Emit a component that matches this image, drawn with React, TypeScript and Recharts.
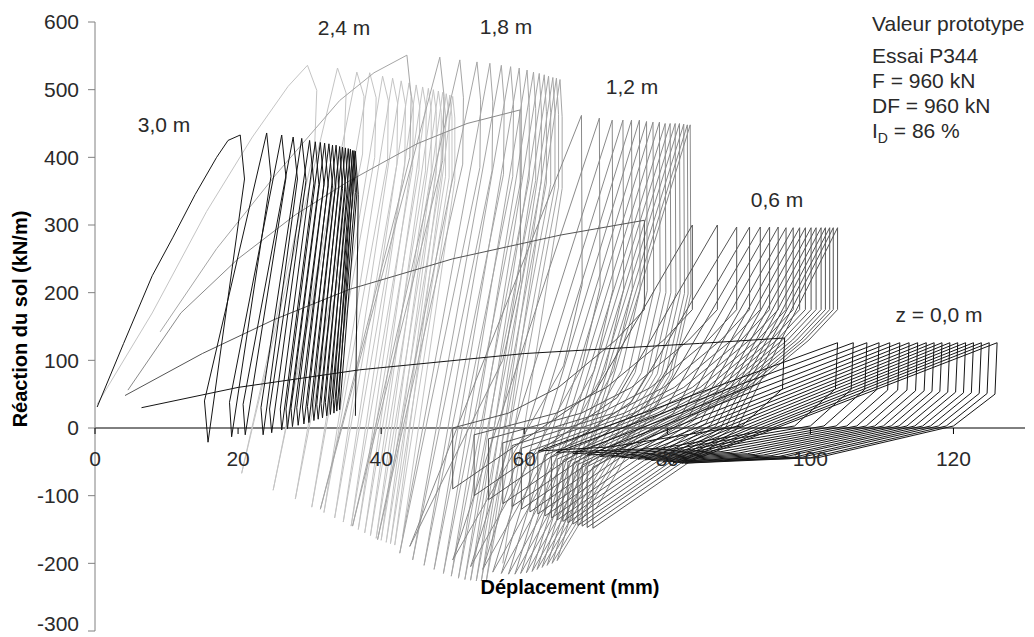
import React from 'react';
import { LineChart, Line, XAxis, YAxis, ReferenceLine, ReferenceDot } from 'recharts';

type P = [number, number];

const xTicks = [0, 20, 40, 60, 80, 100, 120];
const yTicks = [-300, -200, -100, 0, 100, 200, 300, 400, 500, 600];

const depth30: P[] = [
  [0.3, 31], [4, 125], [8, 225], [10.9, 282], [14, 345], [17, 400], [18.6, 425], [20.3, 433],
  [20.9, 368], [15.8, -21], [15.3, 40], [24.0, 436],
  [24.6, 372], [19.1, -13], [18.8, 38], [26.1, 433],
  [26.7, 370], [21.0, -10], [20.7, 35], [27.7, 430],
  [28.3, 368], [23.5, -10], [23.2, 30], [28.9, 428],
  [29.5, 366], [24.7, -7], [24.4, 28], [30.0, 425],
  [30.6, 362], [26.1, -3], [25.9, 28], [30.8, 423],
  [31.3, 360], [26.9, -1], [26.7, 28], [31.5, 422],
  [32.0, 360], [27.6, 2], [27.4, 29], [32.1, 421],
  [32.6, 358], [28.4, 4], [28.2, 30], [32.7, 420],
  [33.2, 358], [29.2, 6], [29.0, 31], [33.2, 418],
  [33.6, 356], [29.9, 8], [29.7, 32], [33.7, 418],
  [34.1, 356], [30.6, 11], [30.4, 34], [34.2, 416],
  [34.6, 354], [31.2, 13], [31.0, 35], [34.6, 415],
  [35.0, 352], [31.8, 15], [31.6, 36], [35.0, 414],
  [35.4, 352], [32.4, 18], [32.2, 38], [35.4, 413],
  [35.8, 350], [32.9, 20], [32.8, 40], [35.7, 412],
  [36.1, 350], [33.4, 22], [33.3, 42], [36.0, 410],
  [36.4, 348], [33.8, 25], [33.7, 44], [36.2, 410],
  [36.6, 346], [34.2, 27], [34.1, 46], [36.4, 409],
  [36.8, 345], [36.4, 18],
];

const depth24: P[] = [
  [0.3, 35], [8, 170], [15.6, 320], [22, 430], [27, 505], [29.7, 536],
  [31.0, 499], [30.7, 415], [20.5, -67],
  [33.9, 532], [35.1, 495], [34.8, 410], [24.9, -92],
  [36.6, 526], [37.6, 490], [37.4, 405], [28.0, -105],
  [38.4, 525], [39.3, 488], [39.1, 400], [30.3, -117],
  [40.2, 520], [41.0, 484], [40.9, 395], [32.0, -125],
  [41.6, 517], [42.3, 480], [42.2, 390], [33.5, -133],
  [42.8, 513], [43.4, 478], [43.3, 388], [34.7, -139],
  [43.9, 510], [44.5, 476], [44.4, 385], [35.8, -145],
  [44.9, 507], [45.4, 474], [45.3, 382], [36.8, -150],
  [45.8, 504], [46.3, 472], [46.2, 380], [37.7, -155],
  [46.6, 502], [47.0, 470], [47.0, 378], [38.5, -159],
  [47.3, 500], [47.7, 468], [47.7, 376], [39.3, -163],
  [48.0, 498], [48.4, 466], [48.4, 374], [40.0, -166],
  [48.6, 496], [49.0, 464], [49.0, 372], [40.7, -169],
  [49.1, 494], [49.5, 462], [49.5, 370], [41.3, -171],
  [49.6, 492], [49.9, 460], [49.9, 368], [41.9, -173],
  [50.0, 490], [50.3, 458], [50.3, 366], [43.0, -160],
];

const depth18: P[] = [
  [9.1, 142], [17, 265], [25.4, 376], [34.2, 484], [39, 525], [43.6, 551],
  [44.2, 490], [44.0, 400], [31.5, -120],
  [48.2, 548], [48.8, 490], [48.6, 395], [36.0, -145],
  [51.0, 544], [51.5, 488], [51.4, 390], [39.5, -165],
  [53.4, 541], [53.9, 485], [53.8, 385], [42.6, -185],
  [55.2, 539], [55.6, 483], [55.5, 380], [44.4, -195],
  [56.8, 536], [57.2, 480], [57.1, 375], [46.0, -203],
  [58.1, 534], [58.5, 478], [58.4, 372], [47.4, -209],
  [59.3, 532], [59.6, 476], [59.6, 370], [48.7, -215],
  [60.4, 529], [60.7, 474], [60.7, 368], [49.8, -219],
  [61.3, 526], [61.6, 472], [61.6, 366], [50.8, -222],
  [62.1, 524], [62.4, 470], [62.4, 364], [51.7, -224],
  [62.8, 522], [63.1, 468], [63.1, 362], [52.5, -225],
  [63.4, 520], [63.7, 466], [63.7, 360], [53.3, -226],
  [64.0, 518], [64.3, 465], [64.3, 358], [54.0, -226],
  [64.5, 517], [64.8, 463], [64.8, 356], [54.7, -226],
  [65.0, 515], [65.3, 460], [65.3, 354], [57.0, -200],
];

const depth12: P[] = [
  [4.6, 56], [12, 170], [20, 250], [28, 315], [35.2, 363], [45, 420], [52, 450], [59.4, 470],
  [59.5, 220], [57.0, 100], [44.0, -175],
  [68.0, 462], [68.1, 212], [65.5, 92], [50.0, -195],
  [70.5, 458], [70.6, 208], [68.0, 88], [52.5, -205],
  [72.3, 455], [72.4, 205], [69.8, 85], [54.2, -209],
  [73.8, 455], [73.9, 205], [71.3, 85], [55.6, -213],
  [75.0, 455], [75.1, 205], [72.5, 85], [56.8, -215],
  [76.1, 455], [76.2, 205], [73.6, 85], [57.8, -216],
  [77.1, 453], [77.2, 203], [74.6, 83], [58.7, -216],
  [78.0, 452], [78.1, 202], [75.5, 82], [59.5, -215],
  [78.9, 452], [79.0, 202], [76.4, 82], [60.3, -214],
  [79.7, 450], [79.8, 200], [77.2, 80], [61.1, -212],
  [80.4, 450], [80.5, 200], [77.9, 80], [61.8, -209],
  [81.1, 450], [81.2, 200], [78.6, 80], [62.5, -206],
  [81.7, 450], [81.8, 200], [79.2, 80], [63.2, -203],
  [82.3, 449], [82.4, 199], [79.8, 79], [63.9, -200],
  [82.8, 448], [82.9, 198], [80.3, 78], [64.6, -196],
  [83.2, 448], [83.3, 198], [80.7, 78], [70.0, -120],
];

const depth06: P[] = [
  [4.2, 48], [15, 110], [25, 160], [35.6, 205], [50, 250], [65, 285], [76.8, 307],
  [76.8, 175], [72.8, 130], [64.8, 60], [57.8, 22], [50.0, 0], [50.0, -90], [70.0, 55],
  [83.5, 300], [83.5, 175], [79.5, 130], [71.5, 60], [64.5, 22], [53.0, -10], [53.0, -100], [73.0, 45],
  [87.0, 300], [87.0, 175], [83.0, 130], [75.0, 60], [68.0, 22], [55.0, -16], [55.0, -106], [75.0, 39],
  [89.7, 297], [89.7, 175], [85.7, 130], [77.7, 60], [70.7, 22], [57.0, -22], [57.0, -112], [77.0, 33],
  [91.5, 297], [91.5, 175], [87.5, 130], [79.5, 60], [72.5, 22], [58.3, -26], [58.3, -116], [78.3, 29],
  [93.0, 297], [93.0, 175], [89.0, 130], [81.0, 60], [74.0, 22], [59.6, -30], [59.6, -120], [79.6, 25],
  [94.3, 297], [94.3, 175], [90.3, 130], [82.3, 60], [75.3, 22], [60.8, -34], [60.8, -124], [80.8, 21],
  [95.5, 297], [95.5, 175], [91.5, 130], [83.5, 60], [76.5, 22], [61.9, -37], [61.9, -127], [81.9, 18],
  [96.6, 296], [96.6, 175], [92.6, 130], [84.6, 60], [77.6, 22], [62.9, -40], [62.9, -130], [82.9, 15],
  [97.6, 296], [97.6, 175], [93.6, 130], [85.6, 60], [78.6, 22], [63.8, -43], [63.8, -133], [83.8, 12],
  [98.5, 296], [98.5, 175], [94.5, 130], [86.5, 60], [79.5, 22], [64.6, -46], [64.6, -136], [84.6, 9],
  [99.3, 296], [99.3, 175], [95.3, 130], [87.3, 60], [80.3, 22], [65.4, -48], [65.4, -138], [85.4, 7],
  [100.1, 296], [100.1, 175], [96.1, 130], [88.1, 60], [81.1, 22], [66.1, -50], [66.1, -140], [86.1, 5],
  [100.8, 296], [100.8, 175], [96.8, 130], [88.8, 60], [81.8, 22], [66.8, -52], [66.8, -142], [86.8, 3],
  [101.5, 296], [101.5, 175], [97.5, 130], [89.5, 60], [82.5, 22], [67.5, -54], [67.5, -144], [87.5, 1],
  [102.1, 296], [102.1, 175], [98.1, 130], [90.1, 60], [83.1, 22], [68.1, -55], [68.1, -145], [88.1, 0],
  [102.7, 296], [102.7, 175], [98.7, 130], [90.7, 60], [83.7, 22], [68.8, -57], [68.8, -147], [88.8, -2],
  [103.2, 296], [103.2, 175], [99.2, 130], [91.2, 60], [84.2, 22], [69.6, -58], [69.6, -148], [89.6, -3],
  [103.8, 296], [103.8, 175], [99.8, 130], [91.8, 60], [84.8, 22], [75.0, -40],
];

const depth00: P[] = [
  [6.5, 30], [20, 60], [37, 86], [60, 110], [84.5, 125], [96.4, 133],
  [96.1, 58], [90.4, 3], [72.0, -28], [62.0, -34],
  [103.8, 126], [103.5, 58], [97.8, 3], [79.0, -30], [64.5, -36],
  [106.0, 126], [105.7, 57], [100.0, 3], [81.0, -31], [66.8, -38],
  [107.9, 126], [107.6, 57], [101.9, 3], [83.0, -32], [68.8, -40],
  [109.6, 126], [109.3, 57], [103.6, 3], [84.6, -33], [70.6, -42],
  [111.1, 126], [110.8, 56], [105.1, 3], [86.0, -34], [72.2, -43],
  [112.5, 126], [112.2, 56], [106.5, 3], [87.5, -35], [73.6, -44],
  [113.8, 126], [113.5, 56], [107.8, 3], [88.8, -36], [74.8, -45],
  [115.0, 126], [114.7, 55], [109.0, 3], [90.0, -37], [75.9, -46],
  [116.2, 126], [115.9, 55], [110.2, 3], [91.2, -38], [76.9, -47],
  [117.3, 126], [117.0, 54], [111.3, 3], [92.3, -39], [77.8, -48],
  [118.4, 126], [118.1, 54], [112.4, 3], [93.4, -40], [78.6, -49],
  [119.5, 126], [119.2, 53], [113.5, 3], [94.5, -41], [79.4, -50],
  [120.6, 126], [120.3, 53], [114.6, 3], [95.6, -42], [80.1, -50],
  [121.7, 126], [121.4, 52], [115.7, 3], [96.7, -42], [80.8, -51],
  [122.8, 126], [122.5, 52], [116.8, 3], [97.8, -43], [81.4, -51],
  [123.9, 126], [123.6, 51], [117.9, 3], [98.9, -43], [82.0, -52],
  [125.0, 126], [124.7, 51], [119.0, 3], [100.0, -44], [82.5, -52],
  [126.1, 126], [125.8, 50], [120.0, 3], [101.0, -44], [88.0, -48],
];

const series = [
  { key: 'd24', pts: depth24, color: '#c4c4c4' },
  { key: 'd18', pts: depth18, color: '#a6a6a6' },
  { key: 'd12', pts: depth12, color: '#8a8a8a' },
  { key: 'd06', pts: depth06, color: '#555555' },
  { key: 'd00', pts: depth00, color: '#151515' },
  { key: 'd30', pts: depth30, color: '#151515' },
];

const toData = (pts: P[]) => pts.map(([x, y]) => ({ x, y }));

const FONT = "'Liberation Sans', Arial, sans-serif";
const TXT = '#2a2a2a';

const XTickMark = (t: number) => (props: any) => {
  const { cx, cy } = props;
  if (cx == null || cy == null) return null;
  return (
    <g>
      <line x1={cx} x2={cx} y1={cy} y2={cy + 6} stroke="#000" />
      <text x={cx} y={cy + 38} textAnchor="middle" fill={TXT} fontSize={21} fontFamily={FONT}>
        {t}
      </text>
    </g>
  );
};

const YTick = (props: any) => {
  const { x, y, payload } = props;
  const shift = payload.value === -300 ? -7 : 0;
  return (
    <text x={x} y={y + shift} dy="0.355em" textAnchor="end" fill={TXT} fontSize={21} fontFamily={FONT}>
      {payload.value}
    </text>
  );
};

const W = 1026;
const H = 629;

export default function App() {
  return (
    <div style={{ position: 'relative', width: W, height: H, background: '#fff' }}>
      <LineChart width={W} height={H} margin={{ top: 14, right: 9, bottom: 6, left: 0 }}>
        <XAxis type="number" dataKey="x" domain={[0, 130]} hide allowDataOverflow />
        <YAxis
          type="number"
          domain={[-300, 600]}
          ticks={yTicks}
          interval={0}
          width={87}
          allowDataOverflow
          axisLine={{ stroke: '#808080' }}
          tickLine={{ stroke: '#808080' }}
          tickSize={7}
          tickMargin={9}
          tick={<YTick />}
        />
        <ReferenceLine y={0} stroke="#000" strokeWidth={1} />
        {xTicks.map((t) => (
          <ReferenceDot key={'xt' + t} x={t} y={0} r={0} shape={XTickMark(t)} />
        ))}
        {series.map((s) => (
          <Line
            key={s.key}
            data={toData(s.pts)}
            dataKey="y"
            type="linear"
            stroke={s.color}
            strokeWidth={1}
            dot={false}
            activeDot={false}
            isAnimationActive={false}
          />
        ))}
      </LineChart>
      <svg
        width={W}
        height={H}
        style={{ position: 'absolute', left: 0, top: 0, pointerEvents: 'none' }}
        fontFamily={FONT}
      >
        <g fill={TXT} fontSize={21} textAnchor="middle">
          <text x={156} y={124}>3,0 m</text>
          <text x={336} y={27}>2,4 m</text>
          <text x={498} y={26}>1,8 m</text>
          <text x={624} y={86}>1,2 m</text>
          <text x={769} y={199}>0,6 m</text>
          <text x={931} y={314}>z = 0,0 m</text>
        </g>
        <g fill={TXT} fontSize={21}>
          <text x={864} y={23}>Valeur prototype</text>
          <text x={864} y={55}>Essai P344</text>
          <text x={864} y={80}>F = 960 kN</text>
          <text x={864} y={105}>DF = 960 kN</text>
          <text x={864} y={130}>
            I<tspan dy={5} fontSize={14}>D</tspan>
            <tspan dy={-5}> = 86 %</tspan>
          </text>
        </g>
        <text x={562} y={586} textAnchor="middle" fontWeight="bold" fontSize={20} fill="#000">
          Déplacement (mm)
        </text>
        <text
          x={12}
          y={311}
          textAnchor="middle"
          dominantBaseline="central"
          fontWeight="bold"
          fontSize={20}
          fill="#000"
          transform="rotate(-90 12 311)"
        >
          Réaction du sol (kN/m)
        </text>
      </svg>
    </div>
  );
}
